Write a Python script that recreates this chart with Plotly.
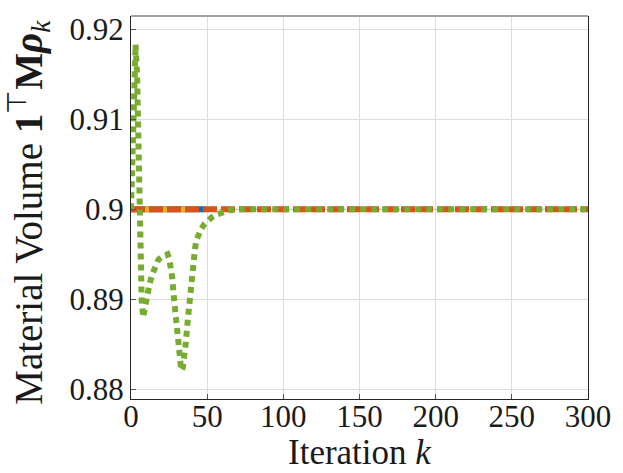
import plotly.graph_objects as go

# ---- data ----
blue_k = [0, 49]
blue_v = [0.9, 0.9]
yellow_k = [0, 42]
yellow_v = [0.9, 0.9]
red_k = [0, 300]
red_v = [0.9, 0.9]
green_k = [0, 1, 2, 3, 4, 5, 6, 7, 8, 9, 10, 11, 12, 14, 16, 18, 20, 22, 24, 25, 26,
           27, 28, 29, 30, 31, 32, 33, 34, 35, 36, 37, 38, 39, 40, 41, 42, 43, 44, 46,
           48, 50, 53, 56, 60, 65, 70, 300]
green_v = [0.9000, 0.9080, 0.9160, 0.9183, 0.9150, 0.9060, 0.8970, 0.8900, 0.8880,
           0.8890, 0.8900, 0.8910, 0.8916, 0.8928, 0.8938, 0.8944, 0.8947, 0.8949,
           0.8950, 0.8946, 0.8938, 0.8925, 0.8905, 0.8885, 0.8865, 0.8848, 0.8832,
           0.8821, 0.8824, 0.8835, 0.8852, 0.8872, 0.8892, 0.8910, 0.8927, 0.8943,
           0.8956, 0.8966, 0.8972, 0.8978, 0.8983, 0.8987, 0.8991, 0.8994, 0.8997,
           0.8999, 0.9000, 0.9000]
ref_k = [0, 300]
ref_v = [0.9, 0.9]

x_ticks = [0, 50, 100, 150, 200, 250, 300]
y_ticks = [0.88, 0.89, 0.90, 0.91, 0.92]
y_tick_text = ["0.88", "0.89", "0.9", "0.91", "0.92"]

FONT = "Liberation Serif"

fig = go.Figure()
fig.add_trace(go.Scatter(x=ref_k, y=ref_v, mode="lines",
                         line=dict(color="#b4c89c", width=1.2), showlegend=False))
fig.add_trace(go.Scatter(x=blue_k, y=blue_v, mode="lines",
                         line=dict(color="#0072BD", width=6), showlegend=False))
fig.add_trace(go.Scatter(x=yellow_k, y=yellow_v, mode="lines",
                         line=dict(color="#EDB120", width=6), showlegend=False))
fig.add_trace(go.Scatter(x=red_k, y=red_v, mode="lines",
                         line=dict(color="#D95319", width=6, dash="14px,4px"), showlegend=False))
fig.add_trace(go.Scatter(x=green_k, y=green_v, mode="lines",
                         line=dict(color="#77AC30", width=6, dash="6px,5px"), showlegend=False))

fig.update_layout(
    width=623, height=473,
    margin=dict(l=131, r=32, t=12, b=74),
    paper_bgcolor="white", plot_bgcolor="white",
    font=dict(family=FONT, size=31, color="#1a1a1a"),
    xaxis=dict(range=[0, 300], tickvals=x_ticks, showgrid=True, gridcolor="#dcdcdc",
               gridwidth=1, showline=True, linecolor="#262626", linewidth=1.3,
               ticks="inside", ticklen=5, tickcolor="#555", zeroline=False,
               ticklabelstandoff=-10,
               tickfont=dict(family=FONT, size=31)),
    yaxis=dict(range=[0.87893, 0.92146], tickvals=y_ticks, ticktext=y_tick_text,
               showgrid=True, gridcolor="#dcdcdc", gridwidth=1, showline=True,
               linecolor="#262626", linewidth=1.3, mirror=True,
               ticks="inside", ticklen=5, tickcolor="#555", zeroline=False,
               tickfont=dict(family=FONT, size=31)),
    shapes=[dict(type="line", xref="paper", yref="paper", x0=0, x1=1, y0=1, y1=1,
                 line=dict(color="#a0a0a0", width=2))],
    annotations=[
        dict(text="Iteration <i>k</i>", xref="paper", yref="paper",
             x=0.5, y=-0.140, xanchor="center", yanchor="middle", showarrow=False,
             font=dict(family=FONT, size=35)),
        dict(text="Material Volume <b>1</b><sup>⊤</sup><b>M</b><b><i>ρ</i></b><sub><i>k</i></sub>",
             xref="paper", yref="paper", x=-0.2239, y=0.488, textangle=-90,
             xanchor="center", yanchor="middle", showarrow=False,
             font=dict(family=FONT, size=39)),
    ],
)

fig.write_html("out.html", config={"displayModeBar": False},
               post_script="document.body.style.margin='0';")
